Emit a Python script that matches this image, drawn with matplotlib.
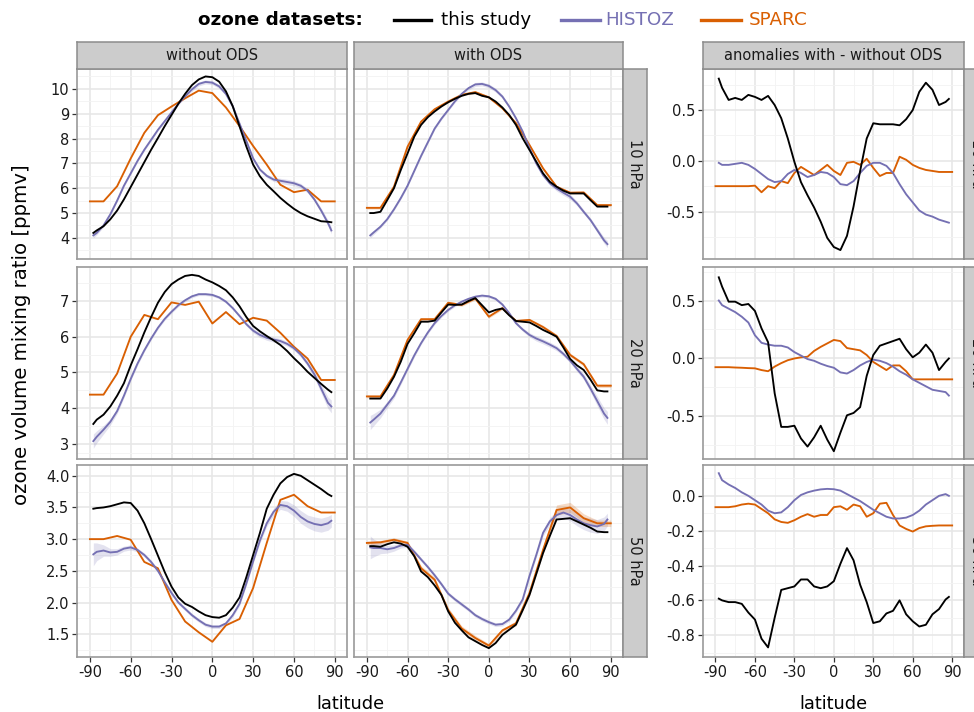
import numpy as np
import matplotlib
matplotlib.use("Agg")
import matplotlib.pyplot as plt
from matplotlib.lines import Line2D
from matplotlib.ticker import FixedLocator, FormatStrFormatter

plt.rcParams['font.family'] = ['DejaVu Sans']
plt.rcParams['axes.unicode_minus'] = False

# ---------------- data ----------------
lat_pts = np.array([-87.5, -85, -80, -75, -70, -65, -60, -55, -50, -45, -40, -35, -30, -25, -20, -15, -10, -5,
                    0, 5, 10, 15, 20, 25, 30, 35, 40, 45, 50, 55, 60, 65, 70, 75, 80, 85, 87.5])
lat_sparc = np.array([-90, -80, -70, -60, -50, -40, -30, -20, -10, 0, 10, 20, 30, 40, 50, 60, 70, 80, 90])
lat_sparc_anom = np.array([-90, -85, -80, -75, -70, -65, -60, -55, -50, -45, -40, -35, -30, -25, -20, -15, -10, -5,
                           0, 5, 10, 15, 20, 25, 30, 35, 40, 45, 50, 55, 60, 65, 70, 75, 80, 85, 90])

pressure_levels = ["10 hPa", "20 hPa", "50 hPa"]
column_titles = ["without ODS", "with ODS", "anomalies with - without ODS"]
dataset_names = ["this study", "HISTOZ", "SPARC"]

# 10 hPa
ts_wo_10 = [4.2, 4.3, 4.47, 4.75, 5.1, 5.55, 6.05, 6.55, 7.05, 7.55, 8.02, 8.5, 8.95, 9.4, 9.8, 10.15, 10.38, 10.5,
            10.47, 10.29, 9.9, 9.3, 8.49, 7.68, 6.95, 6.48, 6.14, 5.88, 5.61, 5.38, 5.17, 5.0, 4.87, 4.77, 4.67, 4.65, 4.63]
hz_wo_10 = [4.1, 4.2, 4.5, 4.95, 5.5, 6.1, 6.6, 7.1, 7.55, 7.95, 8.35, 8.7, 9.05, 9.4, 9.7, 9.98, 10.2, 10.28,
            10.25, 10.1, 9.8, 9.3, 8.6, 7.9, 7.2, 6.75, 6.5, 6.35, 6.3, 6.25, 6.2, 6.1, 5.9, 5.55, 5.1, 4.6, 4.3]
sp_wo_10 = [5.47, 5.47, 6.08, 7.2, 8.23, 8.94, 9.29, 9.62, 9.93, 9.83, 9.25, 8.5, 7.7, 6.95, 6.14, 5.84, 5.94, 5.47, 5.47]
ts_w_10 = [5.0, 5.0, 5.05, 5.52, 6.0, 6.73, 7.4, 8.08, 8.55, 8.86, 9.09, 9.29, 9.46, 9.6, 9.72, 9.8, 9.83, 9.72,
           9.66, 9.49, 9.25, 8.95, 8.55, 8.01, 7.54, 7.07, 6.6, 6.26, 6.06, 5.9, 5.79, 5.79, 5.79, 5.52, 5.26, 5.26, 5.26]
hz_w_10 = [4.1, 4.22, 4.45, 4.75, 5.15, 5.6, 6.1, 6.7, 7.3, 7.85, 8.4, 8.8, 9.15, 9.5, 9.8, 10.03, 10.18, 10.2,
           10.12, 9.95, 9.69, 9.29, 8.82, 8.28, 7.61, 7.0, 6.53, 6.2, 5.99, 5.82, 5.66, 5.39, 5.05, 4.72, 4.31, 3.9, 3.75]
sp_w_10 = [5.21, 5.21, 6.06, 7.67, 8.68, 9.18, 9.49, 9.76, 9.87, 9.66, 9.22, 8.62, 7.74, 6.8, 6.06, 5.82, 5.83, 5.32, 5.32]

# 20 hPa
ts_wo_20 = [3.56, 3.68, 3.82, 4.05, 4.35, 4.7, 5.2, 5.65, 6.12, 6.55, 6.95, 7.25, 7.47, 7.6, 7.7, 7.73, 7.7, 7.6,
            7.52, 7.42, 7.3, 7.1, 6.85, 6.55, 6.3, 6.15, 6.02, 5.9, 5.77, 5.6, 5.4, 5.22, 5.02, 4.85, 4.68, 4.52, 4.45]
hz_wo_20 = [3.08, 3.2, 3.4, 3.62, 3.92, 4.35, 4.82, 5.25, 5.62, 5.95, 6.25, 6.5, 6.7, 6.88, 7.02, 7.13, 7.19, 7.19,
            7.17, 7.1, 6.98, 6.8, 6.58, 6.35, 6.17, 6.05, 5.97, 5.92, 5.88, 5.8, 5.68, 5.5, 5.25, 4.95, 4.55, 4.15, 4.05]
sp_wo_20 = [4.38, 4.38, 4.97, 6.0, 6.61, 6.49, 6.96, 6.89, 6.98, 6.37, 6.69, 6.35, 6.53, 6.45, 6.11, 5.72, 5.39, 4.79, 4.79]
ts_w_20 = [4.27, 4.27, 4.27, 4.55, 4.88, 5.3, 5.8, 6.1, 6.42, 6.42, 6.45, 6.68, 6.9, 6.89, 6.9, 7.0, 7.08, 6.88,
           6.68, 6.75, 6.79, 6.6, 6.44, 6.42, 6.4, 6.3, 6.19, 6.1, 6.0, 5.7, 5.38, 5.2, 5.07, 4.8, 4.5, 4.47, 4.47]
hz_w_20 = [3.6, 3.68, 3.85, 4.1, 4.35, 4.72, 5.1, 5.48, 5.82, 6.12, 6.38, 6.58, 6.75, 6.88, 6.98, 7.06, 7.12, 7.15,
           7.13, 7.06, 6.9, 6.66, 6.38, 6.2, 6.05, 5.95, 5.87, 5.78, 5.68, 5.52, 5.33, 5.1, 4.88, 4.55, 4.2, 3.85, 3.73]
sp_w_20 = [4.33, 4.33, 4.93, 5.91, 6.49, 6.49, 6.95, 6.89, 7.07, 6.56, 6.8, 6.44, 6.47, 6.27, 6.02, 5.49, 5.23, 4.63, 4.63]

# 50 hPa
ts_wo_50 = [3.48, 3.49, 3.5, 3.52, 3.55, 3.58, 3.57, 3.45, 3.25, 3.0, 2.74, 2.48, 2.25, 2.08, 1.98, 1.93, 1.86, 1.8,
            1.77, 1.76, 1.8, 1.92, 2.08, 2.4, 2.75, 3.1, 3.48, 3.7, 3.88, 3.98, 4.03, 4.0, 3.93, 3.86, 3.79, 3.71, 3.68]
hz_wo_50 = [2.76, 2.8, 2.82, 2.79, 2.8, 2.85, 2.87, 2.83, 2.75, 2.64, 2.5, 2.32, 2.15, 2.0, 1.9, 1.8, 1.72, 1.65,
            1.62, 1.62, 1.67, 1.8, 1.98, 2.3, 2.65, 2.98, 3.25, 3.43, 3.54, 3.52, 3.45, 3.35, 3.28, 3.24, 3.22, 3.25, 3.29]
sp_wo_50 = [3.0, 3.0, 3.05, 2.99, 2.64, 2.54, 2.04, 1.7, 1.53, 1.38, 1.64, 1.74, 2.23, 2.94, 3.62, 3.7, 3.52, 3.42, 3.42]
ts_w_50 = [2.89, 2.89, 2.88, 2.92, 2.95, 2.93, 2.88, 2.73, 2.49, 2.4, 2.27, 2.12, 1.86, 1.68, 1.56, 1.45, 1.39, 1.33,
           1.28, 1.36, 1.49, 1.57, 1.65, 1.88, 2.12, 2.45, 2.78, 3.05, 3.31, 3.32, 3.33, 3.28, 3.23, 3.18, 3.12, 3.11, 3.11]
hz_w_50 = [2.87, 2.86, 2.86, 2.84, 2.86, 2.9, 2.91, 2.8, 2.68, 2.56, 2.43, 2.29, 2.14, 2.05, 1.97, 1.89, 1.8, 1.74,
           1.69, 1.65, 1.66, 1.73, 1.87, 2.05, 2.42, 2.75, 3.1, 3.28, 3.38, 3.42, 3.38, 3.31, 3.25, 3.22, 3.2, 3.24, 3.31]
sp_w_50 = [2.94, 2.95, 2.99, 2.94, 2.54, 2.36, 1.88, 1.59, 1.44, 1.32, 1.56, 1.67, 2.15, 2.83, 3.46, 3.5, 3.33, 3.25, 3.25]

# HISTOZ uncertainty half-widths (per pressure level)
hz_sd_10 = [0.1, 0.08, 0.06, 0.05, 0.05, 0.05, 0.05, 0.05, 0.05, 0.05, 0.05, 0.05, 0.05, 0.05, 0.06, 0.07, 0.08, 0.08,
            0.08, 0.08, 0.07, 0.06, 0.05, 0.05, 0.05, 0.06, 0.07, 0.08, 0.1, 0.11, 0.1, 0.09, 0.08, 0.08, 0.1, 0.12, 0.14]
hz_sd_20 = [0.2, 0.17, 0.12, 0.09, 0.07, 0.06, 0.05, 0.05, 0.04, 0.04, 0.04, 0.04, 0.04, 0.04, 0.04, 0.04, 0.04, 0.04,
            0.04, 0.04, 0.04, 0.04, 0.04, 0.05, 0.06, 0.07, 0.07, 0.07, 0.07, 0.06, 0.06, 0.07, 0.08, 0.1, 0.13, 0.16, 0.18]
hz_sd_50 = [0.18, 0.14, 0.09, 0.06, 0.05, 0.04, 0.04, 0.03, 0.03, 0.03, 0.03, 0.03, 0.03, 0.03, 0.03, 0.03, 0.03, 0.03,
            0.03, 0.03, 0.03, 0.03, 0.03, 0.03, 0.03, 0.04, 0.05, 0.06, 0.07, 0.08, 0.09, 0.1, 0.1, 0.11, 0.11, 0.11, 0.1]
# SPARC (with ODS) uncertainty half-widths
sp_sd_10 = [0.05, 0.05, 0.05, 0.05, 0.05, 0.05, 0.05, 0.05, 0.05, 0.05, 0.05, 0.05, 0.05, 0.05, 0.05, 0.05, 0.05, 0.05, 0.05]
sp_sd_20 = [0.04, 0.04, 0.04, 0.04, 0.04, 0.04, 0.04, 0.04, 0.04, 0.04, 0.04, 0.04, 0.04, 0.05, 0.05, 0.05, 0.05, 0.05, 0.05]
sp_sd_50 = [0.03, 0.03, 0.03, 0.03, 0.04, 0.04, 0.04, 0.04, 0.04, 0.03, 0.03, 0.04, 0.05, 0.06, 0.08, 0.08, 0.07, 0.05, 0.05]

# anomalies (with - without ODS)
ts_an_10 = [0.81, 0.72, 0.6, 0.62, 0.6, 0.65, 0.63, 0.6, 0.64, 0.55, 0.42, 0.22, -0.01, -0.21, -0.34, -0.46, -0.6, -0.76,
            -0.85, -0.88, -0.74, -0.45, -0.1, 0.22, 0.37, 0.36, 0.36, 0.36, 0.35, 0.41, 0.5, 0.68, 0.77, 0.7, 0.55, 0.58, 0.61]
hz_an_10 = [-0.02, -0.04, -0.04, -0.03, -0.02, -0.04, -0.08, -0.13, -0.18, -0.21, -0.2, -0.13, -0.09, -0.12, -0.16, -0.14,
            -0.11, -0.12, -0.16, -0.23, -0.24, -0.2, -0.12, -0.05, -0.02, -0.02, -0.05, -0.12, -0.23, -0.33, -0.41, -0.49,
            -0.53, -0.55, -0.58, -0.6, -0.61]
sp_an_10 = [-0.25, -0.25, -0.25, -0.25, -0.25, -0.25, -0.245, -0.31, -0.25, -0.27, -0.2, -0.22, -0.12, -0.06, -0.1, -0.14,
            -0.09, -0.04, -0.1, -0.14, -0.02, -0.01, -0.04, 0.02, -0.07, -0.15, -0.12, -0.12, 0.04, 0.01, -0.04, -0.07,
            -0.09, -0.1, -0.11, -0.11, -0.11]
ts_an_20 = [0.70, 0.62, 0.49, 0.49, 0.46, 0.47, 0.41, 0.26, 0.14, -0.3, -0.59, -0.59, -0.58, -0.69, -0.76, -0.68, -0.58,
            -0.7, -0.8, -0.64, -0.49, -0.47, -0.42, -0.15, 0.03, 0.11, 0.13, 0.15, 0.17, 0.08, 0.01, 0.05, 0.12, 0.05,
            -0.1, -0.03, 0.0]
hz_an_20 = [0.5, 0.46, 0.43, 0.4, 0.36, 0.31, 0.2, 0.135, 0.12, 0.11, 0.11, 0.095, 0.055, 0.025, -0.005, -0.02, -0.045,
            -0.065, -0.08, -0.12, -0.13, -0.1, -0.06, -0.03, -0.01, -0.02, -0.04, -0.07, -0.11, -0.14, -0.18, -0.21,
            -0.24, -0.27, -0.28, -0.29, -0.32]
sp_an_20 = [-0.075, -0.075, -0.075, -0.078, -0.08, -0.083, -0.085, -0.1, -0.11, -0.07, -0.04, -0.015, 0.0, 0.01, 0.015,
            0.065, 0.1, 0.13, 0.16, 0.15, 0.09, 0.08, 0.07, 0.03, -0.03, -0.065, -0.1, -0.06, -0.06, -0.11, -0.18, -0.18,
            -0.18, -0.18, -0.18, -0.18, -0.18]
ts_an_50 = [-0.59, -0.6, -0.61, -0.61, -0.62, -0.67, -0.71, -0.82, -0.87, -0.7, -0.54, -0.53, -0.52, -0.48, -0.48, -0.52,
            -0.53, -0.52, -0.49, -0.39, -0.3, -0.37, -0.51, -0.61, -0.73, -0.72, -0.675, -0.66, -0.6, -0.68, -0.72,
            -0.75, -0.74, -0.68, -0.65, -0.595, -0.58]
hz_an_50 = [0.13, 0.09, 0.065, 0.045, 0.02, 0.0, -0.025, -0.05, -0.085, -0.1, -0.095, -0.065, -0.025, 0.005, 0.02, 0.03,
            0.037, 0.04, 0.038, 0.03, 0.01, -0.01, -0.03, -0.055, -0.08, -0.1, -0.12, -0.13, -0.13, -0.125, -0.11,
            -0.085, -0.05, -0.025, 0.0, 0.01, 0.0]
sp_an_50 = [-0.065, -0.065, -0.065, -0.06, -0.05, -0.045, -0.05, -0.075, -0.1, -0.135, -0.15, -0.155, -0.14, -0.12,
            -0.105, -0.12, -0.11, -0.11, -0.065, -0.06, -0.08, -0.05, -0.06, -0.12, -0.1, -0.045, -0.04, -0.11, -0.17,
            -0.19, -0.205, -0.185, -0.175, -0.172, -0.17, -0.17, -0.17]

# ---------------- style ----------------
C_TS, C_HZ, C_SP = "#000000", "#7570B3", "#D95F02"
W, H = 974, 712
fig = plt.figure(figsize=(W / 100, H / 100), dpi=100)


def ax_px(x0, y0, x1, y1):
    return fig.add_axes([x0 / W, 1 - y1 / H, (x1 - x0) / W, (y1 - y0) / H])


rows_y = [(69, 259), (267, 459), (465, 657)]
cols_x = [(77, 347), (354, 623)]
right_x = (703, 964)

row_ylim = [(3.15, 10.8), (2.58, 7.95), (1.14, 4.17)]
row_yticks = [[4, 5, 6, 7, 8, 9, 10], [3, 4, 5, 6, 7], [1.5, 2.0, 2.5, 3.0, 3.5, 4.0]]
row_yminor = [[3.5, 4.5, 5.5, 6.5, 7.5, 8.5, 9.5, 10.5], [2.75, 3.5, 4.5, 5.5, 6.5, 7.5],
              [1.25, 1.75, 2.25, 2.75, 3.25, 3.75]]
row_fmt = ["%d", "%d", "%.1f"]
an_ylim = [(-0.968, 0.905), (-0.867, 0.789), (-0.925, 0.177)]
an_yticks = [[-0.5, 0.0, 0.5], [-0.5, 0.0, 0.5], [-0.8, -0.6, -0.4, -0.2, 0.0]]
an_yminor = [[-0.75, -0.25, 0.25, 0.75], [-0.75, -0.25, 0.25, 0.75], [-0.9, -0.7, -0.5, -0.3, -0.1, 0.1]]
an_fmt = ["%.1f", "%.1f", "%.1f"]

xt = [-90, -60, -30, 0, 30, 60, 90]
xminor = [-75, -45, -15, 15, 45, 75]


def style_panel(ax, ylim, yticks, yminor, fmt, show_x, show_y):
    ax.set_xlim(-99.5, 99)
    ax.set_ylim(*ylim)
    ax.xaxis.set_major_locator(FixedLocator(xt))
    ax.xaxis.set_minor_locator(FixedLocator(xminor))
    ax.yaxis.set_major_locator(FixedLocator(yticks))
    ax.yaxis.set_minor_locator(FixedLocator(yminor))
    ax.yaxis.set_major_formatter(FormatStrFormatter(fmt))
    ax.grid(which="major", color="#E6E6E6", lw=1.1)
    ax.grid(which="minor", color="#F3F3F3", lw=0.6)
    ax.set_axisbelow(True)
    for s in ax.spines.values():
        s.set_color("#9A9A9A")
        s.set_linewidth(1.2)
    ax.tick_params(which="minor", length=0)
    ax.tick_params(which="major", length=3.6, width=0.9, color="#333333",
                   labelsize=10.5, labelcolor="#1A1A1A", pad=2)
    if not show_x:
        ax.tick_params(axis="x", which="major", length=0, labelbottom=False)
    if not show_y:
        ax.tick_params(axis="y", which="major", length=0, labelleft=False)


def strip(x0, y0, x1, y1, text, rot):
    a = ax_px(x0, y0, x1, y1)
    a.set_facecolor("#CCCCCC")
    for s in a.spines.values():
        s.set_color("#8C8C8C")
        s.set_linewidth(1.1)
    a.set_xticks([])
    a.set_yticks([])
    a.text(0.5, 0.5, text, rotation=rot, ha="center", va="center", fontsize=10.5,
           color="#1A1A1A", transform=a.transAxes)


data_main = [
    [(ts_wo_10, hz_wo_10, sp_wo_10, None), (ts_w_10, hz_w_10, sp_w_10, sp_sd_10)],
    [(ts_wo_20, hz_wo_20, sp_wo_20, None), (ts_w_20, hz_w_20, sp_w_20, sp_sd_20)],
    [(ts_wo_50, hz_wo_50, sp_wo_50, None), (ts_w_50, hz_w_50, sp_w_50, sp_sd_50)],
]
hz_sd = [hz_sd_10, hz_sd_20, hz_sd_50]
data_anom = [(ts_an_10, hz_an_10, sp_an_10), (ts_an_20, hz_an_20, sp_an_20), (ts_an_50, hz_an_50, sp_an_50)]

LW = 1.35
for r in range(3):
    y0, y1 = rows_y[r]
    for c in range(2):
        x0, x1 = cols_x[c]
        ax = ax_px(x0, y0, x1, y1)
        ts, hz, sp, spsd = data_main[r][c]
        hz_a = np.array(hz)
        sd = np.array(hz_sd[r])
        ax.fill_between(lat_pts, hz_a - sd, hz_a + sd, color=C_HZ, alpha=0.2, lw=0)
        if spsd is not None:
            sp_a = np.array(sp)
            sps = np.array(spsd)
            ax.fill_between(lat_sparc, sp_a - sps, sp_a + sps, color=C_SP, alpha=0.22, lw=0)
        ax.plot(lat_sparc, sp, color=C_SP, lw=LW)
        ax.plot(lat_pts, hz, color=C_HZ, lw=LW)
        ax.plot(lat_pts, ts, color=C_TS, lw=LW)
        style_panel(ax, row_ylim[r], row_yticks[r], row_yminor[r], row_fmt[r],
                    show_x=(r == 2), show_y=(c == 0))
    strip(623, y0, 647, y1, pressure_levels[r], 270)

    # anomaly panel
    ax = ax_px(right_x[0], y0, right_x[1], y1)
    ts, hz, sp = data_anom[r]
    ax.plot(lat_sparc_anom, sp, color=C_SP, lw=LW)
    ax.plot(lat_pts, hz, color=C_HZ, lw=LW)
    ax.plot(lat_pts, ts, color=C_TS, lw=LW)
    style_panel(ax, an_ylim[r], an_yticks[r], an_yminor[r], an_fmt[r], show_x=(r == 2), show_y=True)
    strip(964, y0, 988, y1, pressure_levels[r], 270)

# column strips
strip(cols_x[0][0], 42, cols_x[0][1], 69, column_titles[0], 0)
strip(cols_x[1][0], 42, cols_x[1][1], 69, column_titles[1], 0)
strip(right_x[0], 42, right_x[1], 69, column_titles[2], 0)

# axis titles
fig.text(22 / W, 1 - 335 / H, "ozone volume mixing ratio [ppmv]", rotation=90, ha="center", va="center",
         fontsize=14.2, color="#000000")
fig.text(350 / W, 1 - 704 / H, "latitude", ha="center", va="center", fontsize=12.8)
fig.text(833 / W, 1 - 704 / H, "latitude", ha="center", va="center", fontsize=12.8)

# legend
ly = 1 - 20 / H
fig.text(363 / W, ly, "ozone datasets:", ha="right", va="center", fontsize=13.2, fontweight="bold")
legend_items = [(394, 431, 441, C_TS), (561, 600, 605, C_HZ), (701, 741, 749, C_SP)]
for (lx0, lx1, tx, col), name in zip(legend_items, dataset_names):
    fig.add_artist(Line2D([lx0 / W, lx1 / W], [ly, ly], transform=fig.transFigure, color=col, lw=2.4))
    fig.text(tx / W, ly, name, ha="left", va="center", fontsize=13.2, color=col)

fig.savefig("out.png", dpi=100)
